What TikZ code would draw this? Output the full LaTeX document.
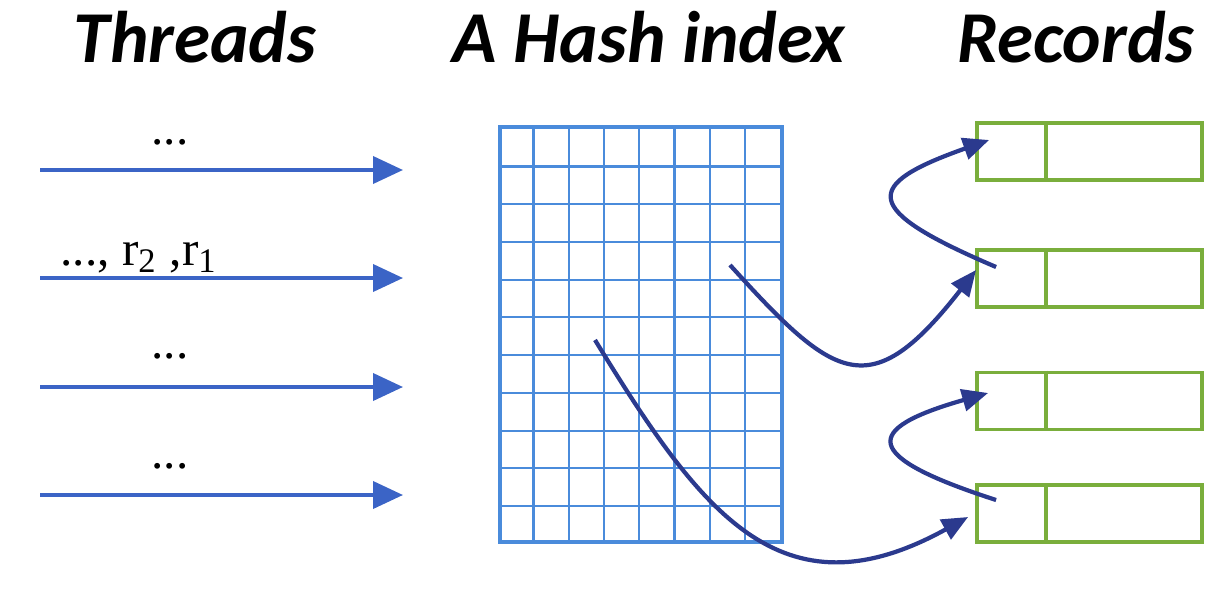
\documentclass[tikz,border=0pt]{standalone}
\usepackage{fontspec}
\usepackage{tikz}
\usetikzlibrary{calc,arrows.meta}
\usetikzlibrary{positioning}
\newfontfamily\headfont{Carlito}
\newfontfamily\seqfont{Liberation Serif}
\definecolor{hx-grid}{HTML}{4A8BDB}
\definecolor{hx-thread}{HTML}{3B64C6}
\definecolor{hx-link}{HTML}{2B3A8E}
\definecolor{hx-rec}{HTML}{7AAE3C}

\begin{document}
\begin{tikzpicture}[
    title/.style={font=\headfont\bfseries\itshape\fontsize{20.8}{25}\selectfont, anchor=base, inner sep=0},
    seq/.style={font=\seqfont\fontsize{14}{16}\selectfont, anchor=base, inner sep=0},
    thread/.style={draw=hx-thread, line width=1.1pt, -{Triangle[length=0.3cm, width=0.27cm]}},
    link/.style={draw=hx-link, line width=1.2pt, -{Triangle[length=0.26cm, width=0.22cm]}},
    record/.style={draw=hx-rec, line width=1.1pt, minimum width=2.25cm, minimum height=0.57cm, inner sep=0}
]
    \useasboundingbox[fill=white] (0,0) rectangle (12.30,5.91);

    % Titles
    \node[title] (threads) at (1.95,5.29) {Threads};
    \node[title] (index) at (6.49,5.29) {A Hash index};
    \node[title] (records) at (10.76,5.29) {Records};

    % Threads
    \foreach \i/\y in {1/4.21, 2/3.13, 3/2.04, 4/0.96} {
        \coordinate (ts\i) at (0.40,\y);
        \coordinate (te\i) at (4.03,\y);
        \draw[thread] (ts\i) -- (te\i);
    }
    \node[seq] (lab1) at (1.70,4.47) {...};
    \node[seq] (lab2) at (1.39,3.26) {..., r\textsubscript{2} ,r\textsubscript{1}};
    \node[seq] (lab3) at (1.70,2.33) {...};
    \node[seq] (lab4) at (1.70,1.23) {...};

    % Hash index (8 x 11 slots)
    \node[draw=hx-grid, line width=1pt, minimum width=2.82cm, minimum height=4.15cm, inner sep=0] (hash) at (6.41,2.565) {};
    \foreach \i in {1,...,7} {
        \draw[hx-grid, line width=0.6pt] ($(hash.south west)+(\i*0.3525,0)$) -- ($(hash.north west)+(\i*0.3525,0)$);
    }
    \foreach \j in {1,...,10} {
        \draw[hx-grid, line width=0.6pt] ($(hash.south west)+(0,\j*0.37727)$) -- ($(hash.south east)+(0,\j*0.37727)$);
    }

    % Records
    \foreach \i/\y in {1/4.395, 2/3.125, 3/1.90, 4/0.775} {
        \node[record] (rec\i) at (10.895,\y) {};
        \draw[hx-rec, line width=1.1pt] ([xshift=0.71cm]rec\i.north west) -- ([xshift=0.71cm]rec\i.south west);
    }

    % Links from slots to records
    \coordinate (slotA) at (7.30,3.26);
    \coordinate (slotB) at (5.95,2.51);
    \draw[link] (slotA) .. controls (8.35,2.10) and (8.70,1.85) .. ($(rec2.west)+(0.01,0.085)$);
    \draw[link] (slotB) .. controls (7.00,0.80) and (7.80,-0.30) .. ($(rec4.west)+(-0.07,-0.035)$);
    \draw[link] ($(rec2.west)+(0.21,0.115)$) .. controls (8.60,3.82) and (8.62,4.06) .. ($(rec1.west)+(0.14,0.115)$);
    \draw[link] ($(rec4.west)+(0.21,0.135)$) .. controls (8.60,1.35) and (8.62,1.62) .. ($(rec3.west)+(0.13,0.08)$);
\end{tikzpicture}
\end{document}
